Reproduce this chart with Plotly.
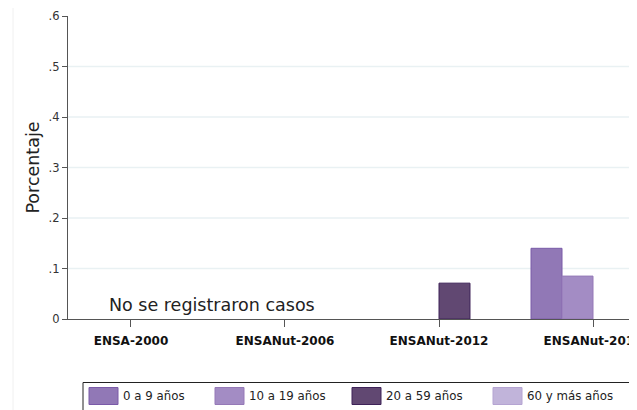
import plotly.graph_objects as go

categories = ["ENSA-2000", "ENSANut-2006", "ENSANut-2012", "ENSANut-2018"]
series_names = ["0 a 9 años", "10 a 19 años", "20 a 59 años", "60 y más años"]
v_0_9 = [None, None, None, 0.140]
v_10_19 = [None, None, None, 0.085]
v_20_59 = [None, None, 0.071, None]
v_60 = [None, None, None, None]
series_values = [v_0_9, v_10_19, v_20_59, v_60]
y_ticks = [0, 0.1, 0.2, 0.3, 0.4, 0.5, 0.6]
y_ticktext = ["0", ".1", ".2", ".3", ".4", ".5", ".6"]
note_text = "No se registraron casos"

fills = ["#9178b6", "#a38cc4", "#614872", "#c1b4da"]
borders = ["#7a5aa8", "#9579b7", "#3e2258", "#b5a4d2"]

# page body has an 8px margin: work in screen pixels and shift
OFF = 8
W, H = 637, 410
ML, MR, MT, MB = 68 - OFF, OFF, 16 - OFF, H - (319 - OFF)
PW = W - ML - MR
PH = H - MT - MB

def px_x(sx):
    return (sx - OFF - ML) / PW

def px_y(sy):
    return (H - MB - (sy - OFF)) / PH

FONT = "DejaVu Sans"

fig = go.Figure()
for name, vals, fc, bc in zip(series_names, series_values, fills, borders):
    fig.add_trace(go.Bar(
        x=categories, y=vals, name=name,
        marker=dict(color=fc, line=dict(color=bc, width=1)),
        showlegend=False,
    ))

shapes = []
for t in y_ticks[1:-1]:
    shapes.append(dict(type="line", xref="paper", yref="y", x0=0, x1=1, y0=t, y1=t,
                       line=dict(color="#e9f1f3", width=1.3), layer="below"))
shapes.append(dict(type="line", xref="paper", yref="paper", x0=px_x(13), x1=px_x(13),
                   y0=px_y(H + 20), y1=px_y(0), line=dict(color="#f0f0f0", width=1), layer="below"))
shapes.append(dict(type="rect", xref="paper", yref="paper", x0=px_x(83), x1=px_x(632.5),
                   y0=px_y(430), y1=px_y(382.5), line=dict(color="#222222", width=1),
                   fillcolor="rgba(0,0,0,0)"))

annotations = []
sw_x = [89, 215, 352, 493]
for name, fc, bc, sx in zip(series_names, fills, borders, sw_x):
    shapes.append(dict(type="rect", xref="paper", yref="paper",
                       x0=px_x(sx), x1=px_x(sx + 29), y0=px_y(404.5), y1=px_y(387.5),
                       fillcolor=fc, line=dict(color=bc, width=1)))
    annotations.append(dict(text=name, xref="paper", yref="paper", x=px_x(sx + 32),
                            y=px_y(396), xanchor="left", yanchor="middle", showarrow=False,
                            font=dict(family=FONT, size=11.8, color="#222222")))

annotations.append(dict(text=note_text, xref="x", yref="y", x=0.526, y=0.027,
                        xanchor="center", yanchor="middle", showarrow=False,
                        font=dict(family=FONT, size=17.5, color="#222222")))

fig.update_layout(
    width=W, height=H,
    margin=dict(l=ML, r=MR, t=MT, b=MB, autoexpand=False),
    paper_bgcolor="white", plot_bgcolor="white",
    barmode="group", bargap=0.195, bargroupgap=0,
    font=dict(family=FONT, color="#222222"),
    shapes=shapes, annotations=annotations,
    xaxis=dict(
        range=[-0.409, (637 - 131) / 154.0], showgrid=False, zeroline=False, automargin=False,
        showline=True, linecolor="#555555", linewidth=1.3,
        ticks="outside", ticklen=7, tickcolor="#555555", tickwidth=1.3,
        ticklabelstandoff=3,
        tickfont=dict(family=FONT, size=12, color="#111111", weight="bold"),
        tickvals=categories, ticktext=categories,
    ),
    yaxis=dict(
        range=[0, 0.6], showgrid=False, zeroline=False, automargin=False,
        showline=True, linecolor="#555555", linewidth=1.3,
        ticks="outside", ticklen=5, tickcolor="#555555", tickwidth=1.3,
        tickvals=y_ticks, ticktext=y_ticktext,
        tickfont=dict(family=FONT, size=11.5, color="#333333"),
        title=dict(text="Porcentaje", font=dict(family=FONT, size=17.5, color="#222222"), standoff=4),
    ),
)

fig.write_html("out.html")
